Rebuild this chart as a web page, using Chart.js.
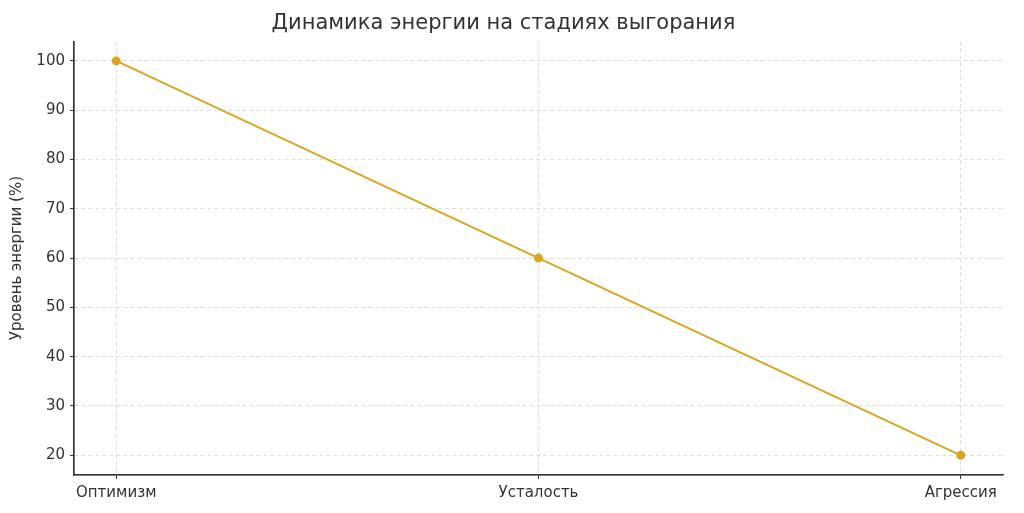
<!DOCTYPE html>
<html><head><meta charset="utf-8">
<script src="https://cdn.jsdelivr.net/npm/chart.js@4"></script>
<style>html,body{margin:0;padding:0;background:#fff}#w{width:1024px;height:513px}</style>
</head><body><div id="w"><canvas id="c"></canvas></div>
<script>
const categories = ["Оптимизм", "Усталость", "Агрессия"];
const energy = [100, 60, 20];
const yTicks = [20, 30, 40, 50, 60, 70, 80, 90, 100];
const color = "#DAA520";
Chart.defaults.font.family = "'DejaVu Sans', sans-serif";
new Chart(document.getElementById('c'), {
  type: 'line',
  data: { datasets: [{ data: energy.map((v, i) => ({x: i, y: v})), borderColor: color, backgroundColor: color,
    borderWidth: 2, pointRadius: 3.5, pointHoverRadius: 3.5, tension: 0 }] },
  options: {
    responsive: true, maintainAspectRatio: false, animation: false,
    layout: { padding: { left: 4, right: 21, top: 0, bottom: 0 } },
    plugins: { legend: { display: false }, tooltip: { enabled: false },
      title: { display: true, text: 'Динамика энергии на стадиях выгорания', color: '#333',
        font: { size: 21, weight: 'normal' }, padding: { top: 11, bottom: 5 } } },
    scales: {
      x: { type: 'linear', min: -0.1, max: 2.1,
        afterBuildTicks: a => { a.ticks = categories.map((c, i) => ({value: i})); },
        afterFit: a => { a.height = 38; },
        ticks: { callback: v => categories[v], color: '#333', font: { size: 15 }, maxRotation: 0, padding: 5, autoSkip: false },
        grid: { color: '#dddddd', tickLength: 4, drawTicks: true, tickColor: '#333' },
        border: { color: '#333', width: 1.2, dash: [4, 3] } },
      y: { min: 16, max: 104,
        afterBuildTicks: a => { a.ticks = yTicks.map(v => ({value: v})); },
        afterFit: a => { a.width = 70; },
        ticks: { color: '#333', font: { size: 15 }, padding: 5 },
        title: { display: true, text: 'Уровень энергии (%)', color: '#333', font: { size: 15 }, padding: 4 },
        grid: { color: '#dddddd', tickLength: 4, tickColor: '#333' },
        border: { color: '#333', width: 1.2, dash: [4, 3] } }
    }
  },
  plugins: [{ id: 'spines', afterDraw(ch) {
    const {ctx, chartArea: a} = ch; ctx.save(); ctx.strokeStyle = '#333'; ctx.lineWidth = 1.2;
    ctx.beginPath(); ctx.moveTo(a.left, a.top); ctx.lineTo(a.left, a.bottom); ctx.lineTo(a.right, a.bottom); ctx.stroke(); ctx.restore(); } }]
});
</script></body></html>
